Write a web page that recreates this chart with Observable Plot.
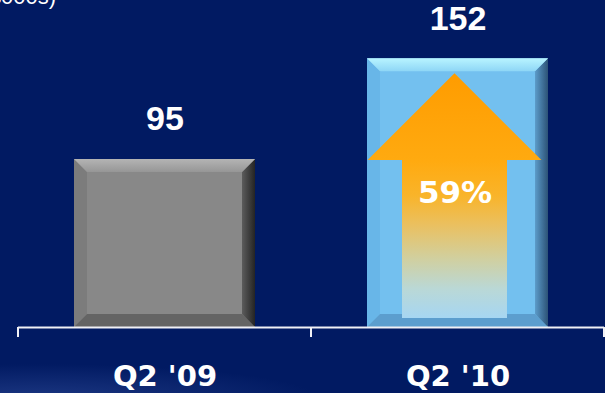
<!DOCTYPE html>
<html><head><meta charset="utf-8">
<script src="https://cdn.jsdelivr.net/npm/d3@7"></script>
<script src="https://cdn.jsdelivr.net/npm/@observablehq/plot@0.6"></script>
<style>
html,body{margin:0;padding:0;background:#011A62;overflow:hidden;}
#wrap{position:relative;width:605px;height:393px;overflow:hidden;
  background: radial-gradient(ellipse 280px 34px at 40px 398px, rgba(70,100,180,0.38), rgba(1,26,98,0) 100%), #011A62;}
#unit{position:absolute;top:-16px;right:549px;color:#fff;font:22px "Liberation Sans",Arial,sans-serif;white-space:nowrap;}
#chart{position:absolute;left:0;top:0;}
</style></head><body><div id="wrap"><div id="unit">(in $000s)</div><div id="chart"></div></div>
<script>
// ---- data ----
const categories = ["Q2 '09", "Q2 '10"];
const revenue = [95, 152];
const growthLabels = ["", "59%"];

// ---- styles ----
const faceColors = ["#888888", "#73C0EF"];
const bevelStyles = [
  {top: ["#B4B4B4", "#969696"], left: "#7C7C7C", right: ["#5C5C5C", "#242424"], bottom: "#646464"},
  {top: ["#B8F4FF", "#8ED6F6"], left: "#68B6E8", right: ["#5C9CCA", "#2C5276"], bottom: "#5C9ECE"}
];
const bevelSize = 13;

const table = categories.map((c, i) => ({cat: c, value: revenue[i], growth: growthLabels[i]}));

const bevelMark = (index, scales) => {
  const g = d3.create("svg:g");
  const defs = g.append("defs");
  const bw = scales.x.bandwidth();
  const b = bevelSize;
  const poly = (pts, fill) => g.append("polygon").attr("points", pts.map(p => p.join(",")).join(" ")).attr("fill", fill);
  categories.forEach((c, i) => {
    const x0 = scales.x(c), x1 = x0 + bw, y0 = scales.y(revenue[i]), y1 = scales.y(0);
    const st = bevelStyles[i];
    const gt = defs.append("linearGradient").attr("id", "bvt" + i).attr("x1", 0).attr("y1", 0).attr("x2", 0).attr("y2", 1);
    gt.append("stop").attr("offset", 0).attr("stop-color", st.top[0]);
    gt.append("stop").attr("offset", 1).attr("stop-color", st.top[1]);
    const gr = defs.append("linearGradient").attr("id", "bvr" + i).attr("x1", 0).attr("y1", 0).attr("x2", 1).attr("y2", 0);
    gr.append("stop").attr("offset", 0).attr("stop-color", st.right[0]);
    gr.append("stop").attr("offset", 1).attr("stop-color", st.right[1]);
    poly([[x0, y0], [x0 + b, y0 + b], [x0 + b, y1 - b], [x0, y1]], st.left);
    poly([[x0, y1], [x1, y1], [x1 - b, y1 - b], [x0 + b, y1 - b]], st.bottom);
    poly([[x1, y0], [x1, y1], [x1 - b, y1 - b], [x1 - b, y0 + b]], `url(#bvr${i})`);
    poly([[x0, y0], [x1, y0], [x1 - b, y0 + b], [x0 + b, y0 + b]], `url(#bvt${i})`);
  });
  return g.node();
};

const arrowMark = (index, scales) => {
  const i = 1;
  const g = d3.create("svg:g");
  const bw = scales.x.bandwidth();
  const cx = scales.x(categories[i]) + bw / 2 - 3;
  const yTip = scales.y(revenue[i]) + 15;
  const yBase = scales.y(revenue[0]) + 1;
  const yBot = scales.y(0) - 9;
  const hw = bw * 0.48, sw = bw * 0.29;
  const grad = g.append("defs").append("linearGradient").attr("id", "arrowGrad")
    .attr("gradientUnits", "userSpaceOnUse").attr("x1", 0).attr("x2", 0).attr("y1", yTip).attr("y2", yBot);
  [[0, "#FF9C00"], [0.36, "#FFAA10"], [0.5, "#F9B42A"], [0.62, "#EAC060"], [0.75, "#D2CF9C"], [0.88, "#BAD8D6"], [1, "#A6D6F2"]]
    .forEach(([o, c]) => grad.append("stop").attr("offset", o).attr("stop-color", c));
  const pts = [[cx, yTip], [cx + hw, yBase], [cx + sw, yBase], [cx + sw, yBot], [cx - sw, yBot], [cx - sw, yBase], [cx - hw, yBase]];
  g.append("polygon").attr("points", pts.map(p => p.join(",")).join(" ")).attr("fill", "url(#arrowGrad)");
  return g.node();
};

const ticksMark = (index, scales) => {
  const g = d3.create("svg:g");
  const step = scales.x.step(), bw = scales.x.bandwidth();
  const y0 = scales.y(0);
  const xs = categories.map(c => scales.x(c) - (step - bw) / 2);
  xs.push(scales.x(categories[categories.length - 1]) + bw + (step - bw) / 2);
  xs.forEach(x => g.append("line").attr("x1", x).attr("x2", x).attr("y1", y0).attr("y2", y0 + 10)
    .attr("stroke", "#F0F0F5").attr("stroke-width", 2));
  return g.node();
};

const chart = Plot.plot({
  width: 605,
  height: 393,
  marginLeft: 18,
  marginRight: 1,
  marginTop: 0,
  marginBottom: 66,
  style: {background: "transparent", color: "white", fontFamily: "'DejaVu Sans', sans-serif", fontSize: "29px", fontWeight: "bold", overflow: "visible"},
  x: {domain: categories, paddingInner: 0.382, paddingOuter: 0.191, tickSize: 0, tickPadding: 38, label: null},
  y: {domain: [0, 185], axis: null},
  color: {type: "identity"},
  marks: [
    Plot.barY(table, {x: "cat", y: "value", fill: (d, i) => faceColors[categories.indexOf(d.cat)]}),
    bevelMark,
    arrowMark,
    Plot.text(table, {x: "cat", y: "value", text: d => String(d.value), dy: -40, fill: "white",
      fontSize: 34, fontWeight: "bold", fontFamily: "'Liberation Sans', Arial, sans-serif"}),
    Plot.text(table.filter(d => d.growth), {x: "cat", y: d => d.value / 2, text: "growth", dx: -3, fill: "white",
      fontSize: 31, fontWeight: "bold", fontFamily: "'DejaVu Sans', sans-serif"}),
    Plot.ruleY([0], {stroke: "#F0F0F5", strokeWidth: 2}),
    ticksMark
  ]
});
document.getElementById("chart").appendChild(chart);
</script>
</body></html>
